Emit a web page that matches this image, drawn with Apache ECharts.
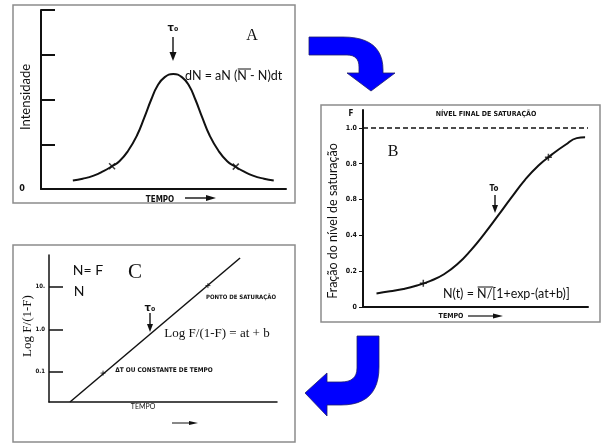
<!DOCTYPE html>
<html><head><meta charset="utf-8">
<script src="https://cdn.jsdelivr.net/npm/echarts@6/dist/echarts.min.js"></script>
<style>html,body{margin:0;padding:0;background:#fff}#c{width:604px;height:446px}</style>
</head><body><div id="c"></div>
<script>
// ---------- Panel A: intensity (bell curve) ----------
const timeA = [13, 17, 21.5, 25.5, 29, 32, 35.5, 39.2, 42.2, 45, 47.5, 50.5, 54, 57.5, 60.5, 63, 65.8, 68.8, 72.5, 76, 79, 82.5, 86.5, 91, 95];
const intensityA = [0.19, 0.23, 0.30, 0.40, 0.51, 0.62, 0.85, 1.2, 1.6, 2.0, 2.30, 2.50, 2.57, 2.50, 2.30, 2.0, 1.6, 1.2, 0.85, 0.62, 0.51, 0.40, 0.30, 0.23, 0.19];
const markTimeA = [29, 79.5];
const markValA = [0.51, 0.50];
const yTicksA = [1, 2, 3, 4];
const yLabelValsA = [0];
const yLabelsA = ['0'];

// ---------- Panel B: fraction of saturation (logistic) ----------
const timeB = [6, 12, 18, 24, 30, 36, 42, 48, 54, 60, 66, 72, 78, 84, 90, 95, 98.7];
const fracB = [0.076, 0.088, 0.101, 0.12, 0.146, 0.183, 0.24, 0.318, 0.41, 0.51, 0.612, 0.71, 0.79, 0.852, 0.906, 0.943, 0.948];
const markTimeB = [26.8, 82.4];
const markValB = [0.132, 0.836];
const yTickValsB = [0, 0.2, 0.4, 0.6, 0.8, 1.0];
const yLabelsB = ['0', '0.2', '0.4', '0.8', '0.8', '1.0'];
const saturationB = 1.0;

// ---------- Panel C: log F/(1-F) (straight line) ----------
const timeC = [9.2, 83.8];
const logC = [-1.71, 1.68];
const markTimeC = [23.7, 69.7];
const markValC = [-1.03, 1.03];
const yTickValsC = [-1, 0, 1];
const yLabelsC = ['0.1', '1.0', '10.'];

const zip = (a, b) => a.map((v, i) => [v, b[i]]);
const COND = "'Liberation Sans Narrow','DejaVu Sans Condensed','Liberation Sans',sans-serif";
const SANS = "Lato,'Noto Sans',sans-serif";
const SERIF = "'Liberation Serif','DejaVu Serif',serif";

function xAxisBase(grid, w) {
  return { type: 'value', gridIndex: grid, min: 0, max: 100,
    axisLine: { show: true, onZero: false, lineStyle: { color: '#111', width: w } },
    axisTick: { show: false }, axisLabel: { show: false }, splitLine: { show: false } };
}

const PLUS = 'path://M5,0L5,10M0,5L10,5';
const CROSS = 'path://M0,0L10,10M10,0L0,10';

const measureCtx = document.createElement('canvas').getContext('2d');
function textW(s, font) { measureCtx.font = font; return measureCtx.measureText(s).width; }

// helper graphics
function txt(x, y, text, font, opts, align) {
  return Object.assign({ type: 'text', x: x, y: y, silent: true, z: 50,
    style: { text: text, font: font, fill: '#111', align: align || 'center', verticalAlign: 'middle' } }, opts || {});
}
// left-aligned text with an overline above the part `over` that follows `before`
function overlined(x, y, text, font, before, over, rise) {
  const x1 = x + textW(before, font), x2 = x1 + textW(over, font);
  return [txt(x, y, text, font, null, 'left'),
    { type: 'line', silent: true, z: 50, shape: { x1: x1 + 0.5, y1: y - rise, x2: x2 + 1, y2: y - rise }, style: { stroke: '#111', lineWidth: 1 } }];
}
function arrowDown(x, y1, y2, hw, hl) {
  return [
    { type: 'line', silent: true, z: 50, shape: { x1: x, y1: y1, x2: x, y2: y2 - hl + 1 }, style: { stroke: '#111', lineWidth: 1.4 } },
    { type: 'polygon', silent: true, z: 50, shape: { points: [[x - hw, y2 - hl], [x + hw, y2 - hl], [x, y2]] }, style: { fill: '#111' } }
  ];
}
function arrowRight(x1, x2, y, hw, hl, lw) {
  return [
    { type: 'line', silent: true, z: 50, shape: { x1: x1, y1: y, x2: x2 - hl + 1, y2: y }, style: { stroke: '#111', lineWidth: lw } },
    { type: 'polygon', silent: true, z: 50, shape: { points: [[x2 - hl, y - hw], [x2 - hl, y + hw], [x2, y]] }, style: { fill: '#111' } }
  ];
}
function box(x, y, w, h) {
  return { type: 'rect', silent: true, z: 1, shape: { x: x, y: y, width: w, height: h }, style: { fill: 'none', stroke: '#8c8c8c', lineWidth: 1.5 } };
}
// quadratic bezier sampled into polygon points (decorative connector arrows)
function quad(p0, c, p1, n) {
  const out = [];
  for (let i = 1; i <= n; i++) {
    const t = i / n, u = 1 - t;
    out.push([u * u * p0[0] + 2 * u * t * c[0] + t * t * p1[0], u * u * p0[1] + 2 * u * t * c[1] + t * t * p1[1]]);
  }
  return out;
}
const arrowTop = [[309, 37], [343, 37], ...quad([343, 37], [383, 37], [383, 70], 12),
  [383, 73], [395, 73], [371, 91], [347, 73], [359, 73], [359, 67], ...quad([359, 67], [359, 55], [347, 55], 8), [309, 55]];
const arrowBottom = [[357, 336], [379, 336], [379, 367], ...quad([379, 367], [379, 405], [341, 405], 12),
  [327, 405], [327, 416], [305, 393], [327, 373], [327, 382], [341, 382], ...quad([341, 382], [357, 382], [357, 368], 8)];

const EQ = '12.5px ' + SANS;
const graphics = [
  box(13, 5, 282, 198),
  box(321, 105, 279, 217),
  box(13, 245, 282, 197),
  { type: 'polygon', silent: true, z: 40, shape: { points: arrowTop }, style: { fill: '#0000ff', stroke: '#20206a', lineWidth: 0.8 } },
  { type: 'polygon', silent: true, z: 40, shape: { points: arrowBottom }, style: { fill: '#0000ff', stroke: '#20206a', lineWidth: 0.8 } },
  // Panel A texts
  txt(173, 28, 'τ₀', "bold 10px 'DejaVu Sans',sans-serif"),
  ...arrowDown(173, 37, 61, 3.5, 9),
  txt(252, 36, 'A', '16px ' + SERIF),
  ...overlined(185, 76, 'dN = aN (N - N)dt', EQ, 'dN = aN (', 'N ', 7),
  txt(26, 97, 'Intensidade', '13px ' + SANS, { rotation: Math.PI / 2 }),
  txt(160, 200, 'TEMPO', 'bold 8px ' + COND),
  ...arrowRight(185, 216, 198, 3, 10, 1.4),
  // Panel B texts
  txt(351, 114, 'F', 'bold 8px ' + COND),
  txt(486, 114, 'NÍVEL FINAL DE SATURAÇÃO', 'bold 7px ' + COND),
  txt(393, 152, 'B', '16px ' + SERIF),
  txt(494, 189, 'To', 'bold 8px ' + COND),
  ...arrowDown(495, 195, 213, 3, 8),
  ...overlined(443, 294, 'N(t) = N/[1+exp-(at+b)]', EQ, 'N(t) = ', 'N/', 7),
  txt(333, 221, 'Fração do nível de saturação', '12.5px ' + SANS, { rotation: Math.PI / 2 }),
  txt(451, 316, 'TEMPO', 'bold 7px ' + COND),
  ...arrowRight(468, 503, 316, 2.5, 10, 1.2),
  // Panel C texts
  txt(88, 270, 'N= F', '14px ' + SANS),
  txt(79, 291, 'N', '14px ' + SANS),
  txt(135, 272, 'C', '21px ' + SERIF),
  txt(150, 308, 'τ₀', "bold 10px 'DejaVu Sans',sans-serif"),
  ...arrowDown(150, 313, 332, 3, 8),
  txt(241, 297, 'PONTO DE SATURAÇÃO', 'bold 6px ' + COND),
  txt(217, 334, 'Log F/(1-F) = at + b', '13px ' + SERIF),
  txt(164, 370, 'ΔT OU CONSTANTE DE TEMPO', 'bold 6.5px ' + COND),
  txt(143, 407, 'TEMPO', '7px ' + SANS),
  ...arrowRight(172, 198, 423, 2, 9, 1),
  txt(28, 326, 'Log F/(1-F)', '13px ' + SERIF, { rotation: Math.PI / 2 })
];

const option = {
  animation: false,
  backgroundColor: '#fff',
  grid: [
    { left: 41, top: 10, width: 245, height: 179 },
    { left: 363, top: 110, width: 225, height: 197 },
    { left: 49, top: 255, width: 228, height: 147 }
  ],
  xAxis: [xAxisBase(0, 2), xAxisBase(1, 2), xAxisBase(2, 1.5)],
  yAxis: [
    { type: 'value', gridIndex: 0, min: 0, max: 4,
      axisLine: { show: true, onZero: false, lineStyle: { color: '#111', width: 2 } },
      axisTick: { show: true, inside: true, length: 14, customValues: yTicksA, lineStyle: { color: '#111', width: 2 } },
      axisLabel: { show: true, customValues: yLabelValsA, margin: 16, formatter: v => yLabelsA[yLabelValsA.indexOf(v)] || '',
        color: '#111', fontSize: 9, fontWeight: 'bold', fontFamily: COND },
      splitLine: { show: false } },
    { type: 'value', gridIndex: 1, min: 0, max: 1.1,
      axisLine: { show: true, onZero: false, lineStyle: { color: '#111', width: 2 } },
      axisTick: { show: true, inside: false, length: 4, customValues: yTickValsB, lineStyle: { color: '#111', width: 1 } },
      axisLabel: { show: true, customValues: yTickValsB, margin: 6,
        formatter: v => yLabelsB[Math.round(v * 5)] || '',
        color: '#111', fontSize: 7, fontWeight: 'bold', fontFamily: COND },
      splitLine: { show: false } },
    { type: 'value', gridIndex: 2, min: -1.71, max: 1.75,
      axisLine: { show: true, onZero: false, lineStyle: { color: '#111', width: 1.5 } },
      axisTick: { show: true, inside: true, length: 14, customValues: yTickValsC, lineStyle: { color: '#111', width: 1.5 } },
      axisLabel: { show: true, customValues: yTickValsC, margin: 4,
        formatter: v => yLabelsC[Math.round(v) + 1] || '',
        color: '#111', fontSize: 6, fontWeight: 'bold', fontFamily: COND },
      splitLine: { show: false } }
  ],
  series: [
    { type: 'line', xAxisIndex: 0, yAxisIndex: 0, data: zip(timeA, intensityA), smooth: 0.5, symbol: 'none',
      lineStyle: { color: '#111', width: 2 } },
    { type: 'scatter', xAxisIndex: 0, yAxisIndex: 0, data: zip(markTimeA, markValA), symbol: CROSS, symbolSize: 6,
      itemStyle: { color: 'none', borderColor: '#111', borderWidth: 1.5 } },
    { type: 'line', xAxisIndex: 1, yAxisIndex: 1, data: zip(timeB, fracB), smooth: 0.5, symbol: 'none',
      lineStyle: { color: '#111', width: 2 },
      markLine: { silent: true, symbol: 'none', label: { show: false },
        lineStyle: { color: '#111', width: 1.5, type: [5, 3] },
        data: [{ yAxis: saturationB }] } },
    { type: 'scatter', xAxisIndex: 1, yAxisIndex: 1, data: zip(markTimeB, markValB), symbol: PLUS, symbolSize: 7,
      itemStyle: { color: 'none', borderColor: '#111', borderWidth: 1.5 } },
    { type: 'line', xAxisIndex: 2, yAxisIndex: 2, data: zip(timeC, logC), symbol: 'none',
      lineStyle: { color: '#111', width: 1.5 } },
    { type: 'scatter', xAxisIndex: 2, yAxisIndex: 2, data: zip(markTimeC, markValC), symbol: PLUS, symbolSize: 5,
      itemStyle: { color: 'none', borderColor: '#111', borderWidth: 1 } }
  ],
  graphic: { elements: graphics }
};
const chart = echarts.init(document.getElementById('c'), null, { renderer: 'canvas' });
chart.setOption(option);
</script></body></html>
